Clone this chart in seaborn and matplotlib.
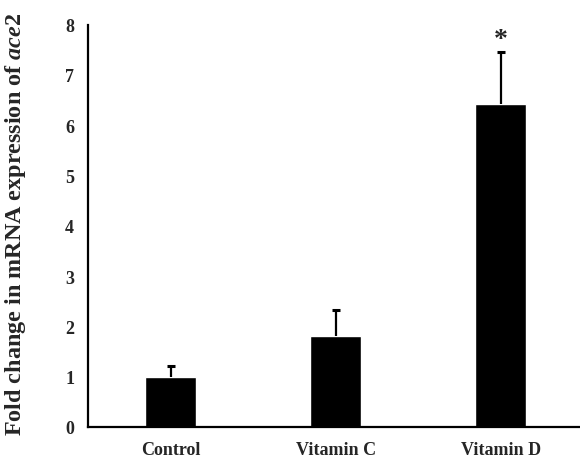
import numpy as np
import pandas as pd
import matplotlib
matplotlib.use("Agg")
import matplotlib.pyplot as plt
import seaborn as sns

# values
groups = ["Control", "Vitamin C", "Vitamin D"]
fold_change = [1.0, 1.8, 6.43]
error_up = [0.22, 0.52, 1.03]
y_ticks = [0, 1, 2, 3, 4, 5, 6, 7, 8]
sig_marks = ["", "", "*"]

sns.set_style("white")
plt.rcParams["font.family"] = ["Liberation Serif", "DejaVu Serif"]
plt.rcParams["font.weight"] = "bold"
plt.rcParams["mathtext.fontset"] = "custom"
plt.rcParams["mathtext.it"] = "Liberation Serif:italic:bold"
plt.rcParams["mathtext.rm"] = "Liberation Serif:bold"

df = pd.DataFrame({"group": groups, "fold": fold_change, "err": error_up})

fig = plt.figure(figsize=(5.8, 4.64), dpi=100)
ax = fig.add_axes([0.1517, 0.0776, 0.8483, 0.867])

sns.barplot(data=df, x="group", y="fold", color="black", width=0.31,
            saturation=1, errorbar=None, ax=ax)
_, caps, _ = ax.errorbar(np.arange(len(groups)), df["fold"],
                         yerr=[np.zeros(len(groups)), df["err"]],
                         fmt="none", ecolor="black", elinewidth=1.6,
                         capsize=3, capthick=2.2)
# one-sided bars: hide the cap sitting on the bar top
caps[0].set_visible(False)

for i, mark in enumerate(sig_marks):
    if mark:
        ax.text(i, df["fold"][i] + df["err"][i] + 0.0, mark, ha="center",
                va="bottom", fontsize=20, fontweight="bold")

ax.set_xlim(-0.5, 2.48)
ax.set_ylim(0, 8)
ax.set_yticks(y_ticks)
ax.tick_params(axis="both", length=0, labelsize=13)
ax.tick_params(axis="y", pad=10)
ax.tick_params(axis="x", pad=10)
for lab in ax.get_xticklabels() + ax.get_yticklabels():
    lab.set_fontweight("bold")

sns.despine(ax=ax)
ax.spines["left"].set_linewidth(1.6)
ax.spines["bottom"].set_linewidth(1.6)
ax.spines["left"].set_color("black")
ax.spines["bottom"].set_color("black")

ax.set_xlabel("")
ax.set_ylabel(r"Fold change in mRNA expression of $\mathit{ace2}$",
              fontsize=17.4, fontweight="bold")
ax.yaxis.set_label_coords(-0.122, 0.507)

fig.savefig("out.png", dpi=100)
